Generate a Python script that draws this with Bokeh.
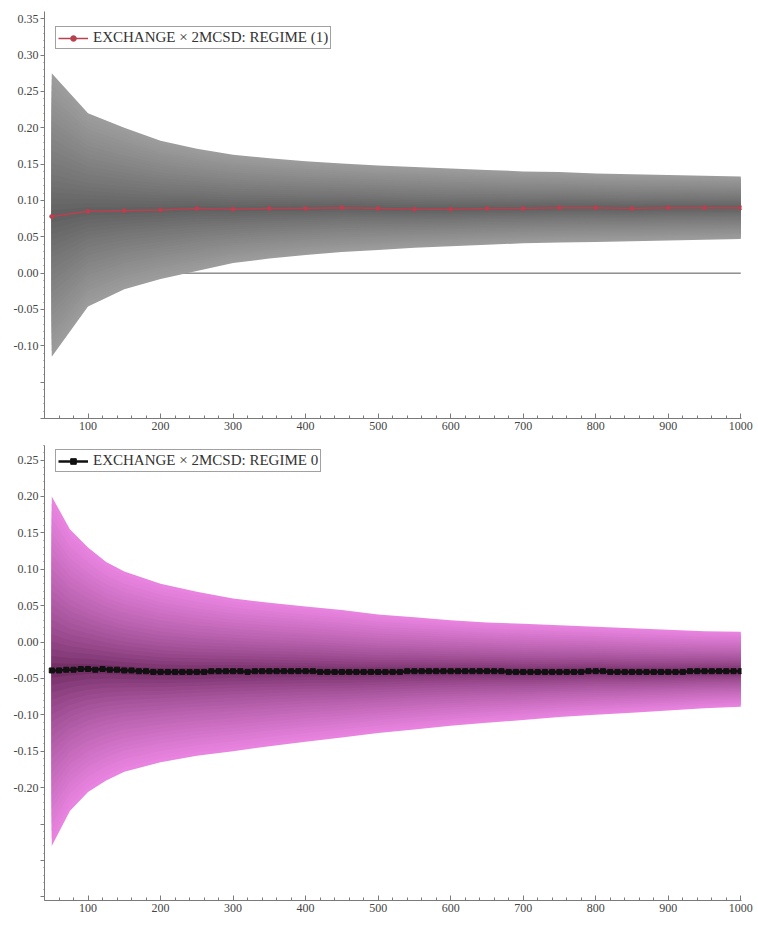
import numpy as np
from bokeh.plotting import figure
from bokeh.layouts import column
from bokeh.models import FixedTicker, NumeralTickFormatter, Range1d, Legend, LegendItem
from bokeh.embed import file_html
from bokeh.resources import INLINE

# ---------------- data: top panel (REGIME (1)) ----------------
x_top = [50, 100, 150, 200, 250, 300, 350, 400, 450, 500,
         550, 600, 650, 700, 750, 800, 850, 900, 950, 1000]
mean_top = [0.078, 0.085, 0.086, 0.087, 0.089, 0.088, 0.089, 0.089, 0.090, 0.089,
            0.088, 0.088, 0.089, 0.089, 0.090, 0.090, 0.089, 0.090, 0.090, 0.090]
upper_top = [0.275, 0.220, 0.200, 0.182, 0.171, 0.163, 0.158, 0.154, 0.151, 0.148,
             0.146, 0.144, 0.142, 0.140, 0.139, 0.137, 0.136, 0.135, 0.134, 0.133]
lower_top = [-0.115, -0.046, -0.022, -0.008, 0.003, 0.014, 0.020, 0.025, 0.029, 0.032,
             0.035, 0.037, 0.039, 0.041, 0.042, 0.043, 0.044, 0.045, 0.046, 0.047]

# ---------------- data: bottom panel (REGIME 0) ----------------
x_env_b = [50, 75, 100, 125, 150, 200, 250, 300, 350, 400, 450, 500,
           550, 600, 650, 700, 750, 800, 850, 900, 950, 1000]
upper_b = [0.200, 0.155, 0.130, 0.110, 0.097, 0.080, 0.069, 0.060, 0.054, 0.049, 0.044, 0.038,
           0.034, 0.030, 0.027, 0.025, 0.023, 0.021, 0.019, 0.017, 0.015, 0.014]
lower_b = [-0.280, -0.232, -0.206, -0.190, -0.178, -0.165, -0.156, -0.150, -0.143, -0.137,
           -0.131, -0.125, -0.120, -0.115, -0.111, -0.107, -0.103, -0.100, -0.097, -0.094,
           -0.091, -0.089]
x_b = list(range(50, 1001, 10))
mean_b = [-0.039, -0.039, -0.038, -0.038, -0.037, -0.037, -0.038, -0.037, -0.038, -0.038,
          -0.039, -0.039, -0.040, -0.040, -0.041, -0.041, -0.041, -0.041, -0.041, -0.041,
          -0.041, -0.041, -0.040, -0.040, -0.040, -0.040, -0.040, -0.041, -0.040, -0.040,
          -0.040, -0.040, -0.040, -0.040, -0.040, -0.040, -0.040, -0.041, -0.041, -0.041,
          -0.041, -0.041, -0.041, -0.041, -0.041, -0.041, -0.041, -0.041, -0.041, -0.040,
          -0.040, -0.040, -0.040, -0.040, -0.040, -0.040, -0.040, -0.040, -0.040, -0.040,
          -0.040, -0.040, -0.040, -0.041, -0.041, -0.041, -0.041, -0.041, -0.041, -0.041,
          -0.041, -0.041, -0.041, -0.041, -0.040, -0.040, -0.040, -0.041, -0.041, -0.041,
          -0.041, -0.041, -0.041, -0.041, -0.041, -0.041, -0.041, -0.041, -0.040, -0.040,
          -0.040, -0.040, -0.040, -0.040, -0.040, -0.040]

x_ticks = [100, 200, 300, 400, 500, 600, 700, 800, 900, 1000]
x_minor = [40, 60, 80, 120, 140, 160, 180, 220, 240, 260, 280, 320, 340, 360, 380,
           420, 440, 460, 480, 520, 540, 560, 580, 620, 640, 660, 680, 720, 740, 760, 780,
           820, 840, 860, 880, 920, 940, 960, 980]
y_ticks_top = [-0.20, -0.15, -0.10, -0.05, 0.00, 0.05, 0.10, 0.15, 0.20, 0.25, 0.30, 0.35]
y_hidden_top = [-0.20, -0.15]
y_ticks_bot = [-0.35, -0.30, -0.25, -0.20, -0.15, -0.10, -0.05, 0.00, 0.05, 0.10, 0.15, 0.20, 0.25]
y_hidden_bot = [-0.35, -0.30, -0.25]

label_top = "EXCHANGE \u00d7 2MCSD: REGIME (1)"
label_bot = "EXCHANGE \u00d7 2MCSD: REGIME 0"

SERIF = "Liberation Serif"
N_BANDS = 24


def mix(c_out, c_in, t):
    r = [int(round(c_in[i] + (c_out[i] - c_in[i]) * t)) for i in range(3)]
    return "#%02x%02x%02x" % tuple(r)


def fan(p, xs, center, lo, hi, c_out, c_in, gamma):
    for k in range(N_BANDS, 0, -1):
        f = k / N_BANDS
        t = f ** gamma
        y1 = [c - f * (c - l) for c, l in zip(center, lo)]
        y2 = [c + f * (h - c) for c, h in zip(center, hi)]
        p.varea(x=xs, y1=y1, y2=y2, fill_color=mix(c_out, c_in, t), fill_alpha=1.0)


def style(p, yticks, hidden):
    p.xaxis.ticker = FixedTicker(ticks=x_ticks, minor_ticks=x_minor)
    p.yaxis.ticker = FixedTicker(ticks=yticks,
                                 minor_ticks=[round(v / 100, 2) for v in range(-35, 36)])
    p.yaxis.formatter = NumeralTickFormatter(format="0.00")
    p.yaxis.major_label_overrides = {v: "" for v in hidden}
    for ax in (p.xaxis[0], p.yaxis[0]):
        ax.axis_line_color = "#7a7a7a"
        ax.major_tick_line_color = "#7a7a7a"
        ax.minor_tick_line_color = "#7a7a7a"
        ax.major_label_text_font = SERIF
        ax.major_label_text_font_size = "12px"
        ax.major_label_text_color = "#444444"
    p.xaxis.major_tick_in = 5
    p.xaxis.major_tick_out = 0
    p.xaxis.minor_tick_in = 3
    p.xaxis.minor_tick_out = 0
    p.xaxis.major_label_standoff = 3
    p.yaxis.major_tick_in = 0
    p.yaxis.major_tick_out = 4
    p.yaxis.minor_tick_in = 0
    p.yaxis.minor_tick_out = 1
    p.yaxis.major_label_standoff = 2
    p.grid.visible = False
    p.outline_line_color = None


# ---------------- top figure ----------------
p1 = figure(frame_width=697, frame_height=407, output_backend="svg", toolbar_location=None,
            x_range=Range1d(40, 1001), y_range=Range1d(-0.2, 0.36),
            min_border_left=44, min_border_right=17, min_border_top=11, min_border_bottom=22)
style(p1, y_ticks_top, y_hidden_top)
p1.line(x=[x_top[0], x_top[-1]], y=[0, 0], line_color="#555555", line_width=1)
fan(p1, x_top, mean_top, lower_top, upper_top, (156, 156, 156), (92, 92, 92), 0.8)
l1 = p1.line(x=x_top, y=mean_top, line_color="#b8404f", line_width=1.5)
s1 = p1.scatter(x=x_top, y=mean_top, size=4, marker="circle", fill_color="#b8404f",
                line_color="#b8404f")
leg1 = Legend(items=[LegendItem(label=label_top, renderers=[l1, s1])],
              location=(11, 369))
p1.add_layout(leg1)

# ---------------- bottom figure ----------------
p2 = figure(frame_width=697, frame_height=455, output_backend="svg", toolbar_location=None,
            x_range=Range1d(40, 1001), y_range=Range1d(-0.355, 0.27),
            min_border_left=44, min_border_right=17, min_border_top=5, min_border_bottom=26)
style(p2, y_ticks_bot, y_hidden_bot)
center_b = list(np.interp(x_env_b, x_b, mean_b))
fan(p2, x_env_b, center_b, lower_b, upper_b, (232, 132, 224), (96, 32, 82), 0.6)
l2 = p2.line(x=x_b, y=mean_b, line_color="#111111", line_width=2.5)
s2 = p2.scatter(x=x_b, y=mean_b, size=5, marker="square", fill_color="#111111",
                line_color="#111111")
leg2 = Legend(items=[LegendItem(label=label_bot, renderers=[l2, s2])],
              location=(11, 428))
p2.add_layout(leg2)

for lg in (leg1, leg2):
    lg.label_text_font = SERIF
    lg.label_text_font_size = "15px"
    lg.label_text_color = "#333333"
    lg.glyph_width = 30
    lg.glyph_height = 14
    lg.label_standoff = 5
    lg.label_height = 14
    lg.padding = 2
    lg.margin = 0
    lg.spacing = 0
    lg.border_line_color = "#444444"
    lg.border_line_width = 1
    lg.background_fill_color = "white"
    lg.background_fill_alpha = 1.0

layout = column(p1, p2, spacing=0)
open("out.html", "w").write(file_html(layout, INLINE))
